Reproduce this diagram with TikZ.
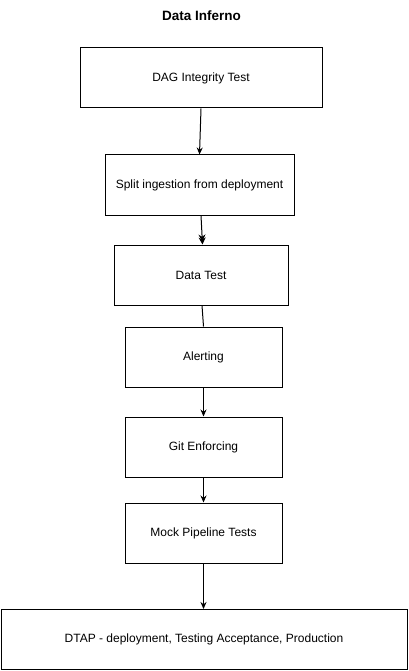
\documentclass[tikz,border=0pt]{standalone}
\usepackage{fontspec}
\setmainfont{Liberation Sans}
\usetikzlibrary{arrows.meta}

\begin{document}
\begin{tikzpicture}[x=1pt,y=-1pt,line width=1pt,>={Stealth[length=7pt,width=6pt]}]

      \useasboundingbox (0,0) rectangle (408,671);

      \node[font=\bfseries\fontsize{13.5}{15}\selectfont] (title) at (201.5,16) {Data Inferno};

      \begin{scope}[every node/.style={rectangle,draw,font=\fontsize{12}{14}\selectfont,minimum height=60pt,inner sep=0pt}]
        \node[minimum width=242pt] (1) at (201,78)  {DAG Integrity Test};
        \node[minimum width=189pt] (2) at (199.5,185) {Split ingestion from deployment};
        \node[minimum width=174pt] (3) at (201,275) {Data Test};
        \node[minimum width=157pt] (4) at (203.5,357) {Alerting};
        \node[minimum width=157pt] (5) at (203.5,447) {Git Enforcing};
        \node[minimum width=157pt] (6) at (203.5,533) {Mock Pipeline Tests};
        \node[minimum width=406pt] (7) at (204,639.5) {DTAP - deployment, Testing Acceptance, Production};
      \end{scope}

      \begin{scope}[every edge/.style={draw}]
        \path (1.south) edge[->] (2.north);
        \path ([xshift=1.5pt]2.south) edge[-{Stealth[length=7pt,width=7pt,sep=-4pt]Stealth[length=7pt,width=7pt]}] ([xshift=1.5pt]3.north);
        \path ([xshift=1pt]3.south) edge (4.north);
        \path (4.south) edge[->] (5.north);
        \path (5.south) edge[->] (6.north);
        \path (6.south) edge[->] (6.south |- 7.north);
      \end{scope}

    \end{tikzpicture}
\end{document}
